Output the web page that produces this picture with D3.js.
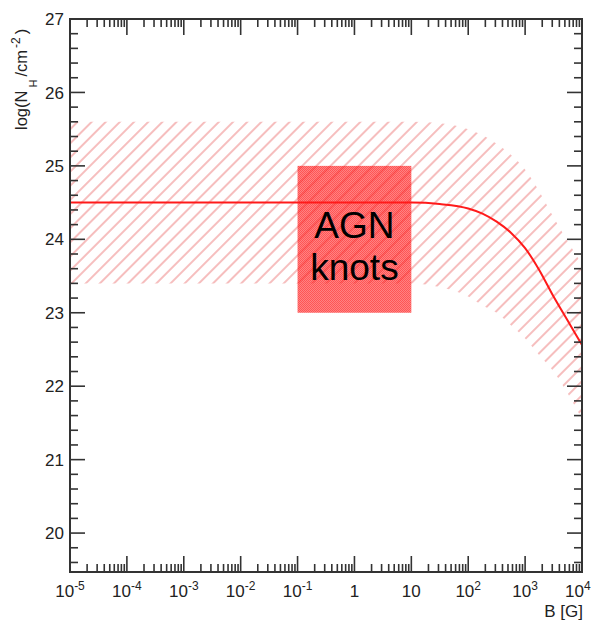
<!DOCTYPE html>
<html>
<head>
<meta charset="utf-8">
<script src="https://cdn.jsdelivr.net/npm/d3@7"></script>
<style>
  html, body { margin: 0; padding: 0; background: #fff; }
  svg { display: block; font-family: "Liberation Sans", Arial, Helvetica, sans-serif; }
</style>
</head>
<body>
<svg id="chart" width="592" height="622"></svg>
<script>
// ---- data ----
const bValues      = [1e-5, 10, 31.6, 100, 178, 316, 562, 1000, 1778, 3162, 5623, 10000];
const nhCentral    = [24.5, 24.5, 24.48, 24.42, 24.35, 24.24, 24.09, 23.88, 23.58, 23.22, 22.89, 22.56];
const nhUpper      = [25.6, 25.6, 25.58, 25.50, 25.42, 25.30, 25.15, 24.95, 24.65, 24.30, 23.97, 23.66];
const nhLower      = [23.4, 23.4, 23.35, 23.22, 23.10, 23.00, 22.83, 22.65, 22.42, 22.20, 21.90, 21.55];
const boxB         = [0.1, 10];
const boxNH        = [23, 25];
const boxLabel     = ["AGN", "knots"];
const xTickExp     = [-5, -4, -3, -2, -1, 0, 1, 2, 3, 4];
const yTicks       = [20, 21, 22, 23, 24, 25, 26, 27];
const xDomain      = [1e-5, 1e4];
const yDomain      = [19.47, 27];

// ---- layout ----
const L = 70, R = 582, T = 19, B = 572;
const svg = d3.select("#chart");
const x = d3.scaleLog().domain(xDomain).range([L, R]);
const y = d3.scaleLinear().domain(yDomain).range([B, T]);

const defs = svg.append("defs");
defs.append("clipPath").attr("id", "plotclip")
  .append("rect").attr("x", L).attr("y", T).attr("width", R - L).attr("height", B - T);

const hatch = defs.append("pattern").attr("id", "hatch")
  .attr("patternUnits", "userSpaceOnUse").attr("width", 10).attr("height", 10)
  .attr("patternTransform", "rotate(45)");
hatch.append("line").attr("x1", 1).attr("y1", -1).attr("x2", 1).attr("y2", 11)
  .attr("stroke", "#f3a8a8").attr("stroke-width", 1.5);

const dots = defs.append("pattern").attr("id", "dots")
  .attr("patternUnits", "userSpaceOnUse").attr("width", 2).attr("height", 2);
dots.append("rect").attr("width", 2).attr("height", 2).attr("fill", "rgba(255,40,40,0.58)");
dots.append("rect").attr("width", 1).attr("height", 1).attr("fill", "rgba(255,0,0,0.35)");
dots.append("rect").attr("x", 1).attr("y", 1).attr("width", 1).attr("height", 1).attr("fill", "rgba(255,0,0,0.35)");

const plot = svg.append("g").attr("clip-path", "url(#plotclip)");

// band
const bandData = bValues.map((b, i) => ({ b, lo: nhLower[i], hi: nhUpper[i] }));
plot.append("path").datum(bandData)
  .attr("d", d3.area().x(d => x(d.b)).y0(d => y(d.lo)).y1(d => y(d.hi)).curve(d3.curveMonotoneX))
  .attr("fill", "url(#hatch)");

// box
plot.append("rect")
  .attr("x", x(boxB[0])).attr("y", y(boxNH[1]))
  .attr("width", x(boxB[1]) - x(boxB[0])).attr("height", y(boxNH[0]) - y(boxNH[1]))
  .attr("fill", "url(#dots)");

// central curve
const lineData = bValues.map((b, i) => ({ b, v: nhCentral[i] }));
plot.append("path").datum(lineData)
  .attr("d", d3.line().x(d => x(d.b)).y(d => y(d.v)).curve(d3.curveMonotoneX))
  .attr("fill", "none").attr("stroke", "#ff1a1a").attr("stroke-width", 2);

// box label
const cx = (x(boxB[0]) + x(boxB[1])) / 2;
svg.append("text").attr("x", cx).attr("y", 238).attr("text-anchor", "middle")
  .attr("font-size", 37).attr("fill", "#000").text(boxLabel[0]);
svg.append("text").attr("x", cx).attr("y", 280).attr("text-anchor", "middle")
  .attr("font-size", 37).attr("fill", "#000").text(boxLabel[1]);

// ---- axes / frame ----
const axisColor = "#333";
const g = svg.append("g").attr("stroke", axisColor).attr("stroke-width", 1.6);

// x ticks (bottom and top)
const xMinor = [];
for (let e = -5; e < 4; e++) for (let k = 2; k <= 9; k++) xMinor.push(k * Math.pow(10, e));
xTickExp.forEach(e => {
  const xx = x(Math.pow(10, e));
  g.append("line").attr("x1", xx).attr("x2", xx).attr("y1", B).attr("y2", B - 16);
  g.append("line").attr("x1", xx).attr("x2", xx).attr("y1", T).attr("y2", T + 16);
});
xMinor.forEach(v => {
  const xx = x(v);
  g.append("line").attr("x1", xx).attr("x2", xx).attr("y1", B).attr("y2", B - 8);
  g.append("line").attr("x1", xx).attr("x2", xx).attr("y1", T).attr("y2", T + 8);
});

// y ticks (left and right)
const yMinor = d3.range(19.6, 27.001, 0.2).filter(v => Math.abs(v - Math.round(v)) > 0.01);
yTicks.forEach(v => {
  const yy = y(v);
  g.append("line").attr("x1", L).attr("x2", L + 15).attr("y1", yy).attr("y2", yy);
  g.append("line").attr("x1", R).attr("x2", R - 15).attr("y1", yy).attr("y2", yy);
});
yMinor.forEach(v => {
  const yy = y(v);
  g.append("line").attr("x1", L).attr("x2", L + 8).attr("y1", yy).attr("y2", yy);
  g.append("line").attr("x1", R).attr("x2", R - 8).attr("y1", yy).attr("y2", yy);
});

// frame
svg.append("rect").attr("x", L).attr("y", T).attr("width", R - L).attr("height", B - T)
  .attr("fill", "none").attr("stroke", axisColor).attr("stroke-width", 2);

// y tick labels
yTicks.forEach(v => {
  svg.append("text").attr("x", 64).attr("y", y(v)).attr("dy", "0.36em")
    .attr("text-anchor", "end").attr("font-size", 17).attr("fill", "#222").text(v);
});

// x tick labels
xTickExp.forEach(e => {
  const t = svg.append("text").attr("x", x(Math.pow(10, e))).attr("y", 597)
    .attr("text-anchor", "middle").attr("font-size", 17).attr("fill", "#222");
  if (e === 0) t.text("1");
  else if (e === 1) t.text("10");
  else {
    t.append("tspan").text("10");
    t.append("tspan").attr("font-size", 12).attr("dy", -7).text(e);
  }
  const bb = t.node().getBBox();
  if (bb.x + bb.width > 591) t.attr("x", +t.attr("x") - (bb.x + bb.width - 591));
});

// axis titles
svg.append("text").attr("x", 583).attr("y", 617).attr("text-anchor", "end")
  .attr("font-size", 17).attr("fill", "#222").text("B [G]");

const yt = svg.append("text").attr("transform", "translate(27,130) rotate(-90)")
  .attr("font-size", 16.5).attr("fill", "#222");
yt.append("tspan").text("log(N");
yt.append("tspan").attr("font-size", 11).attr("dy", 10).attr("dx", 3).text("H");
yt.append("tspan").attr("dy", -10).attr("dx", 3).text("/cm");
yt.append("tspan").attr("font-size", 12).attr("dy", -7).attr("dx", 2).text("-2");
yt.append("tspan").attr("dy", 7).attr("dx", 3).text(")");
</script>
</body>
</html>
